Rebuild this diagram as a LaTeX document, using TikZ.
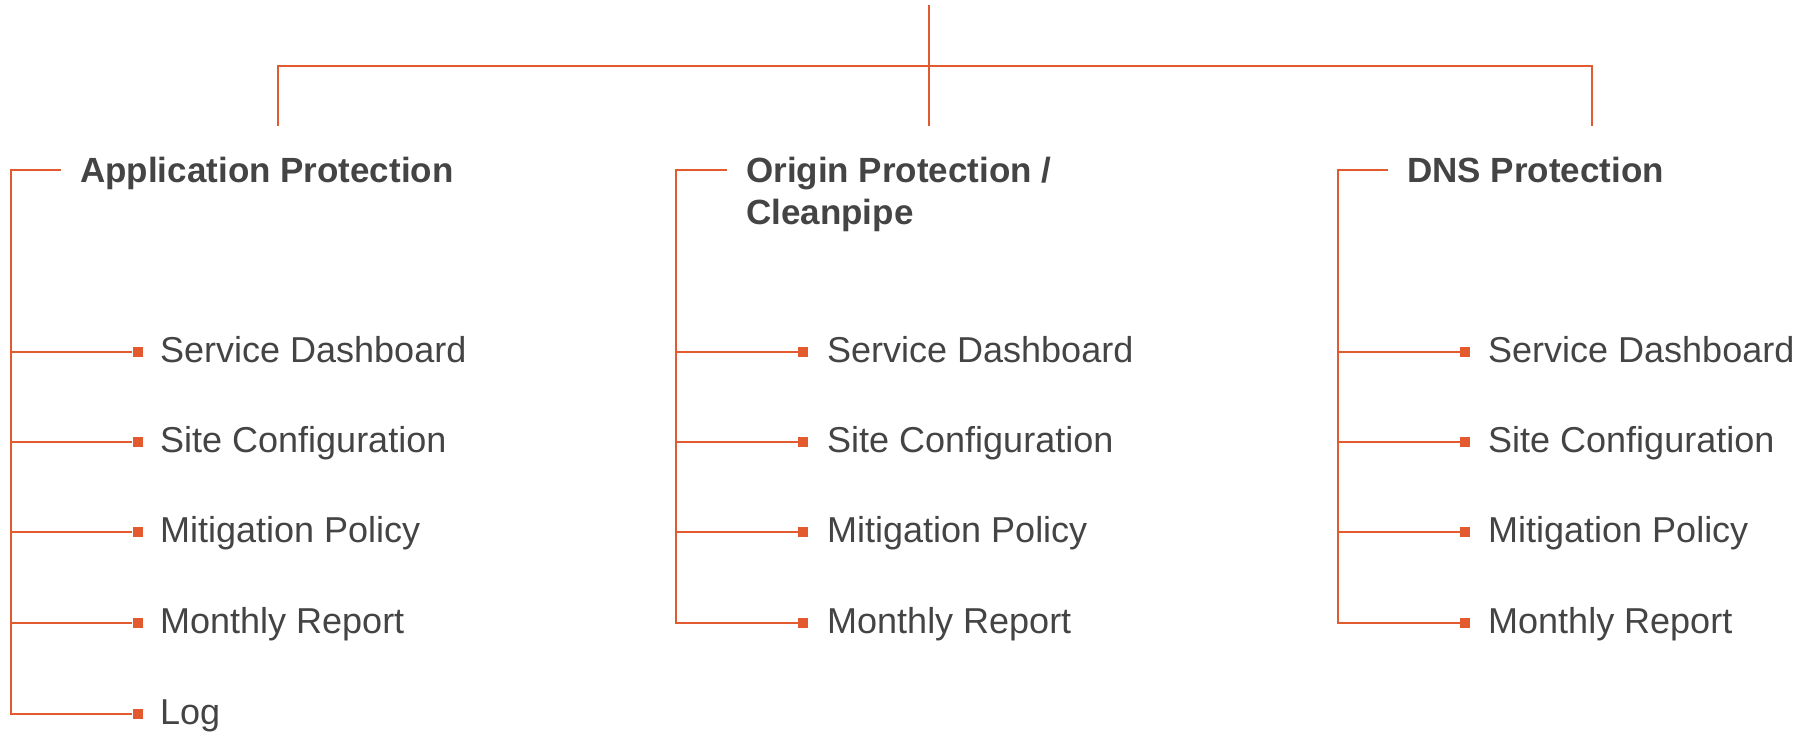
\documentclass[tikz,border=0pt]{standalone}
\usepackage{fontspec}
\setmainfont{Liberation Sans}
\definecolor{brand}{HTML}{E35A2F}
\definecolor{ink}{HTML}{444444}

\begin{document}
\begin{tikzpicture}[x=1pt,y=-1pt]
        \tikzset{
            wire/.style={draw=brand, line width=2.4pt},
            head/.style={anchor=base west, inner sep=0pt, text=ink, align=left,
            font=\fontsize{35}{42}\selectfont\bfseries},
            item/.style={anchor=base west, inner sep=0pt, text=ink,
            font=\fontsize{36}{42}\selectfont},
            tip/.style={rectangle, fill=brand, minimum size=10pt, inner sep=0pt}
            }
            \useasboundingbox (0,0) rectangle (1818,731);

            % root and its three feet
            \coordinate (root) at (929,5);
            \coordinate (hub) at (929,66);
            \coordinate (f1) at (278,126);
            \coordinate (f2) at (929,126);
            \coordinate (f3) at (1592,126);

            % headings (base of a two line node is its last line)
            \node[head] (h1) at (80,182) {Application Protection};
            \node[head] (h2) at (746,224) {Origin Protection /\\Cleanpipe};
            \node[head] (h3) at (1407,182) {DNS Protection};
            \coordinate (b1) at (11,170);
            \coordinate (b2) at (676,170);
            \coordinate (b3) at (1338,170);
            \coordinate (e1) at (61,170);
            \coordinate (e2) at (727,170);
            \coordinate (e3) at (1388,170);

            % application protection
            \node[tip] (m11) at (137.5,352) {};
            \node[tip] (m12) at (137.5,442) {};
            \node[tip] (m13) at (137.5,532) {};
            \node[tip] (m14) at (137.5,623) {};
            \node[tip] (m15) at (137.5,714) {};
            \node[item] (t11) at (160,362) {Service Dashboard};
            \node[item] (t12) at (160,452) {Site Configuration};
            \node[item] (t13) at (160,542) {Mitigation Policy};
            \node[item] (t14) at (160,633) {Monthly Report};
            \node[item] (t15) at (160,724) {Log};

            % origin protection
            \node[tip] (m21) at (803,352) {};
            \node[tip] (m22) at (803,442) {};
            \node[tip] (m23) at (803,532) {};
            \node[tip] (m24) at (803,623) {};
            \node[item] (t21) at (827,362) {Service Dashboard};
            \node[item] (t22) at (827,452) {Site Configuration};
            \node[item] (t23) at (827,542) {Mitigation Policy};
            \node[item] (t24) at (827,633) {Monthly Report};

            % dns protection
            \node[tip] (m31) at (1465,352) {};
            \node[tip] (m32) at (1465,442) {};
            \node[tip] (m33) at (1465,532) {};
            \node[tip] (m34) at (1465,623) {};
            \node[item] (t31) at (1488,362) {Service Dashboard};
            \node[item] (t32) at (1488,452) {Site Configuration};
            \node[item] (t33) at (1488,542) {Mitigation Policy};
            \node[item] (t34) at (1488,633) {Monthly Report};

            \draw[wire] (root) -- (f2);
            \draw[wire] (f1) |- (hub) -| (f3);

            \draw[wire] (e1) -- (b1) -- (b1 |- m15) -- (m15);
            \draw[wire] (b1 |- m11) -- (m11);
            \draw[wire] (b1 |- m12) -- (m12);
            \draw[wire] (b1 |- m13) -- (m13);
            \draw[wire] (b1 |- m14) -- (m14);

            \draw[wire] (e2) -- (b2) -- (b2 |- m24) -- (m24);
            \draw[wire] (b2 |- m21) -- (m21);
            \draw[wire] (b2 |- m22) -- (m22);
            \draw[wire] (b2 |- m23) -- (m23);

            \draw[wire] (e3) -- (b3) -- (b3 |- m34) -- (m34);
            \draw[wire] (b3 |- m31) -- (m31);
            \draw[wire] (b3 |- m32) -- (m32);
            \draw[wire] (b3 |- m33) -- (m33);
        \end{tikzpicture}
\end{document}
